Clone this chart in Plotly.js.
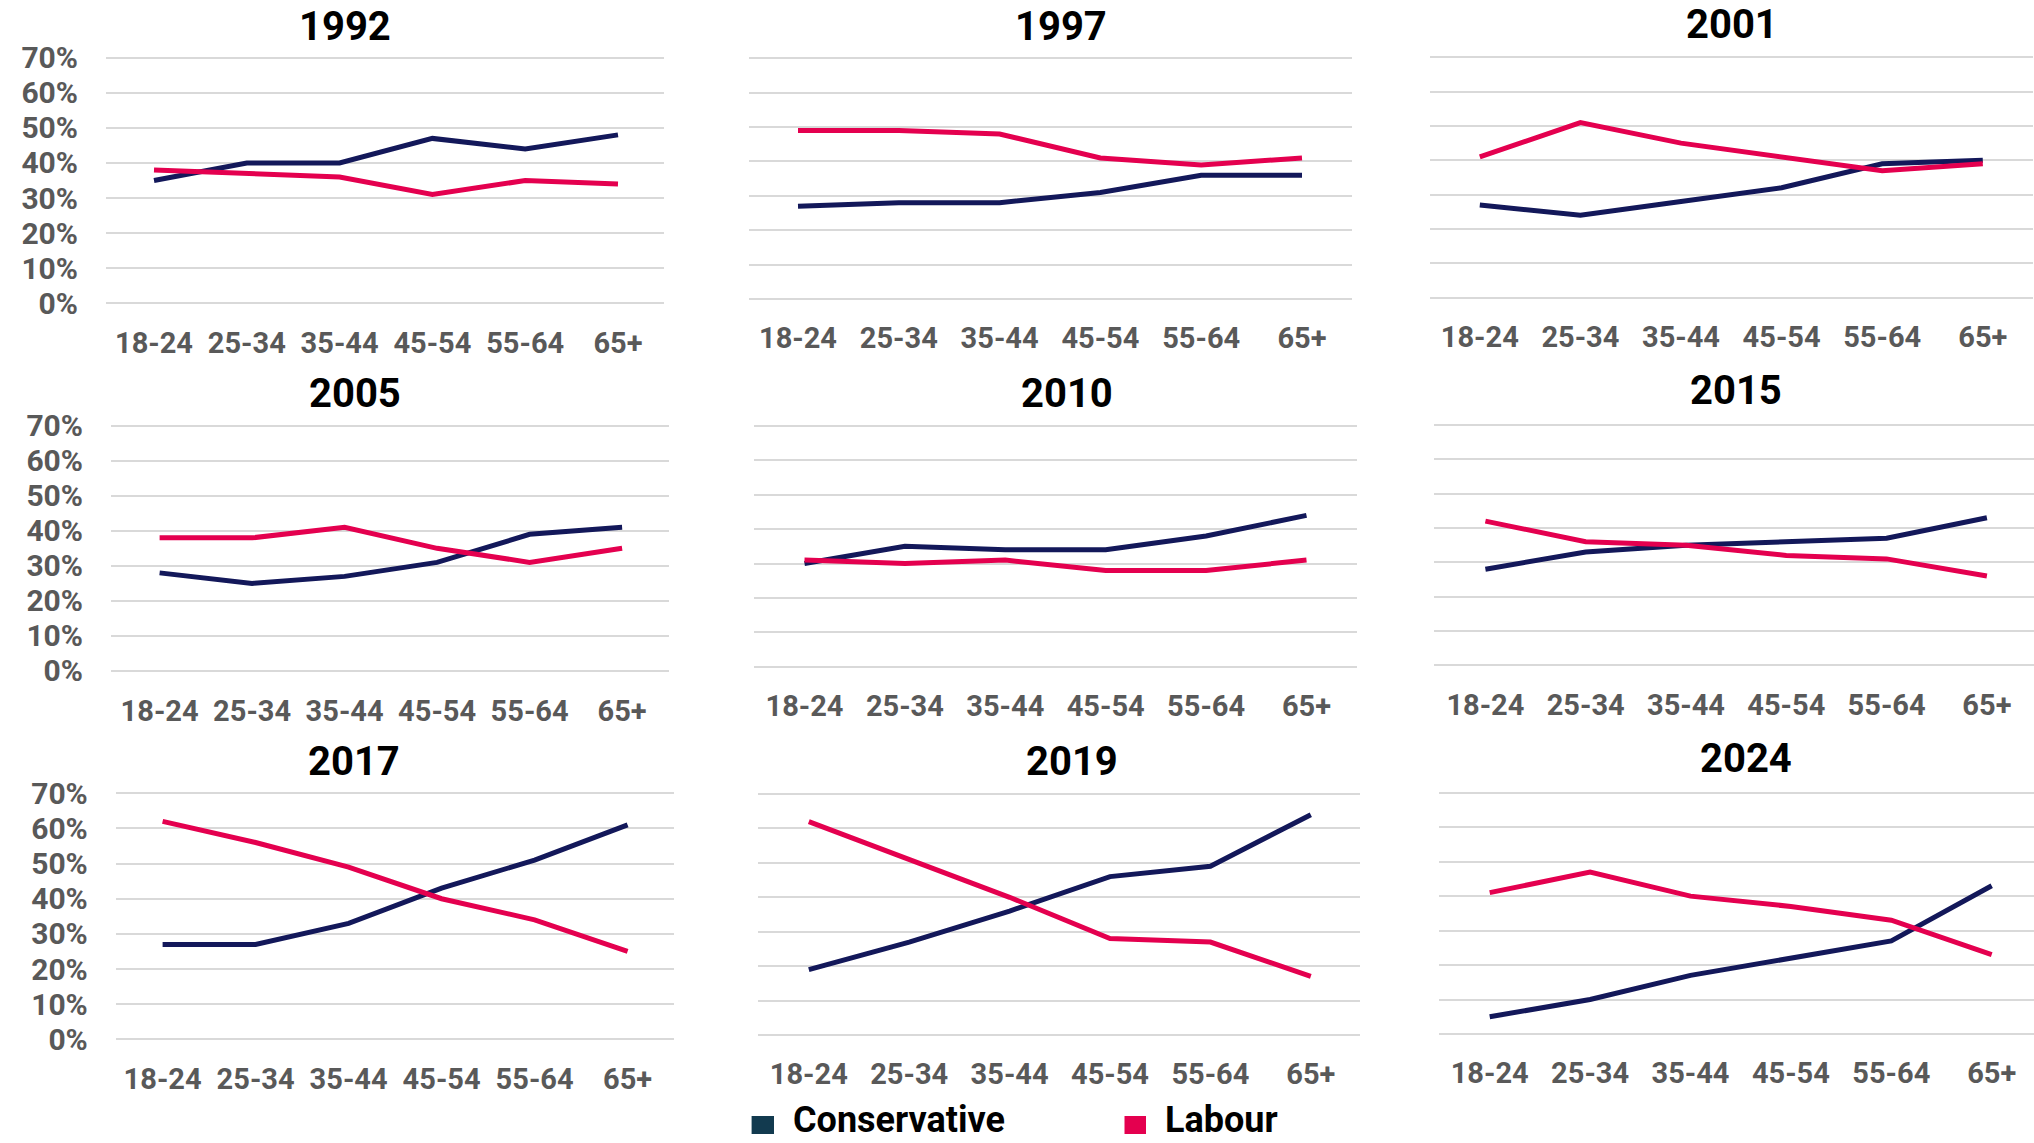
<!DOCTYPE html>
<html>
<head>
<meta charset="utf-8">
<script src="https://cdn.plot.ly/plotly-3.0.1.min.js"></script>
<style>
  html, body { margin: 0; padding: 0; background: #ffffff; }
  #chart { width: 2034px; height: 1143px; }
</style>
</head>
<body>
<div id="chart"></div>
<script>
// ---------------- DATA ----------------
const ageGroups = ['18-24', '25-34', '35-44', '45-54', '55-64', '65+'];
const years = ['1992', '1997', '2001', '2005', '2010', '2015', '2017', '2019', '2024'];
const partyNames = ['Conservative', 'Labour'];
const yTickValues = [0, 10, 20, 30, 40, 50, 60, 70];
const yTickLabels = ['0%', '10%', '20%', '30%', '40%', '50%', '60%', '70%'];

const con1992 = [35, 40, 40, 47, 44, 48];
const lab1992 = [38, 37, 36, 31, 35, 34];
const con1997 = [27, 28, 28, 31, 36, 36];
const lab1997 = [49, 49, 48, 41, 39, 41];
const con2001 = [27, 24, 28, 32, 39, 40];
const lab2001 = [41, 51, 45, 41, 37, 39];
const con2005 = [28, 25, 27, 31, 39, 41];
const lab2005 = [38, 38, 41, 35, 31, 35];
const con2010 = [30, 35, 34, 34, 38, 44];
const lab2010 = [31, 30, 31, 28, 28, 31];
const con2015 = [28, 33, 35, 36, 37, 43];
const lab2015 = [42, 36, 35, 32, 31, 26];
const con2017 = [27, 27, 33, 43, 51, 61];
const lab2017 = [62, 56, 49, 40, 34, 25];
const con2019 = [19, 27, 36, 46, 49, 64];
const lab2019 = [62, 51, 40, 28, 27, 17];
const con2024 = [5, 10, 17, 22, 27, 43];
const lab2024 = [41, 47, 40, 37, 33, 23];

const conSeries = [con1992, con1997, con2001, con2005, con2010, con2015, con2017, con2019, con2024];
const labSeries = [lab1992, lab1997, lab2001, lab2005, lab2010, lab2015, lab2017, lab2019, lab2024];

// ---------------- STYLE / GEOMETRY ----------------
const W = 2034, H = 1143;
const FONT = 'Roboto, "Noto Sans", sans-serif';
const conColor = '#13185a';
const labColor = '#e4004f';
const conLegendColor = '#123a4f';
const gridColor = '#d9d9d9';
const tickColor = '#595959';

// per panel: grid left/right px, first category centre px, spacing px, top(70%) px, bottom(0%) px, title centre
const geo = [
  {l: 106,   r: 663.5, c0: 154,    sp: 92.8,  t: 57.7,  b: 303.3,  tx: 345,    ty: 27,    ylab: true},
  {l: 748.5, r: 1352,  c0: 798,    sp: 100.8, t: 58.3,  b: 299,    tx: 1060.7, ty: 27,    ylab: false},
  {l: 1430,  r: 2033,  c0: 1479.8, sp: 100.6, t: 57.3,  b: 297.7,  tx: 1732,   ty: 24.5,  ylab: false},
  {l: 111,   r: 669,   c0: 159.6,  sp: 92.5,  t: 425.7, b: 671,    tx: 354.7,  ty: 393.3, ylab: true},
  {l: 753.7, r: 1356.5,c0: 804.5,  sp: 100.4, t: 426,   b: 666.7,  tx: 1067,   ty: 393.3, ylab: false},
  {l: 1434,  r: 2034,  c0: 1485.4, sp: 100.3, t: 425,   b: 665.3,  tx: 1735.6, ty: 390,   ylab: false},
  {l: 115.8, r: 673.5, c0: 162.6,  sp: 93,    t: 793.3, b: 1039.3, tx: 354.3,  ty: 761.7, ylab: true},
  {l: 758,   r: 1360,  c0: 808.8,  sp: 100.4, t: 794,   b: 1035,   tx: 1071.6, ty: 761.7, ylab: false},
  {l: 1439.4,r: 2034,  c0: 1489.7, sp: 100.4, t: 792.7, b: 1034,   tx: 1745.6, ty: 758.3, ylab: false}
];

const traces = [];
const layout = {
  width: W, height: H,
  margin: {l: 0, r: 0, t: 0, b: 0},
  paper_bgcolor: '#ffffff',
  plot_bgcolor: 'rgba(0,0,0,0)',
  showlegend: false,
  font: {family: FONT, color: tickColor},
  annotations: [],
  shapes: []
};

years.forEach((yr, i) => {
  const g = geo[i];
  const n = i + 1;
  const xa = 'x' + (n === 1 ? '' : n);
  const ya = 'y' + (n === 1 ? '' : n);
  const xkey = 'xaxis' + (n === 1 ? '' : n);
  const ykey = 'yaxis' + (n === 1 ? '' : n);

  const pad = 1; // in % units
  const unit = (g.b - g.t) / 70;
  const topPx = g.t - pad * unit, botPx = g.b + pad * unit;

  layout[xkey] = {
    domain: [g.l / W, g.r / W],
    anchor: ya,
    type: 'category',
    range: [(g.l - g.c0) / g.sp, (g.r - g.c0) / g.sp],
    showgrid: false, zeroline: false, showline: false,
    ticks: '',
    tickfont: {family: FONT, size: 29, color: tickColor, weight: 'bold'},
    ticklabelstandoff: 16,
    fixedrange: true
  };
  layout[ykey] = {
    domain: [1 - botPx / H, 1 - topPx / H],
    anchor: xa,
    range: [-pad, 70 + pad],
    tickmode: 'array',
    tickvals: yTickValues,
    ticktext: yTickLabels,
    showticklabels: g.ylab,
    showgrid: true, gridcolor: gridColor, gridwidth: 2,
    zeroline: false, showline: false,
    ticks: '',
    tickfont: {family: FONT, size: 30, color: tickColor, weight: 'bold'},
    ticklabelstandoff: 27,
    fixedrange: true
  };

  traces.push({
    type: 'scatter', mode: 'lines',
    x: ageGroups, y: conSeries[i],
    xaxis: xa, yaxis: ya,
    name: partyNames[0],
    line: {color: conColor, width: 5},
    hoverinfo: 'skip'
  });
  traces.push({
    type: 'scatter', mode: 'lines',
    x: ageGroups, y: labSeries[i],
    xaxis: xa, yaxis: ya,
    name: partyNames[1],
    line: {color: labColor, width: 5},
    hoverinfo: 'skip'
  });

  layout.annotations.push({
    xref: 'paper', yref: 'paper',
    x: g.tx / W, y: 1 - g.ty / H,
    xanchor: 'center', yanchor: 'middle',
    text: yr, showarrow: false,
    font: {family: FONT, size: 40, color: '#000000', weight: 'bold'}
  });
});

// legend (drawn as shapes + text)
const legendItems = [
  {name: partyNames[0], color: conLegendColor, sx0: 751.6, sx1: 774, tx: 790.6},
  {name: partyNames[1], color: labColor, sx0: 1124.5, sx1: 1146, tx: 1162.6}
];
legendItems.forEach(it => {
  layout.shapes.push({
    type: 'rect', xref: 'paper', yref: 'paper',
    x0: it.sx0 / W, x1: it.sx1 / W,
    y0: 1 - 1134 / H, y1: 1 - 1116 / H,
    fillcolor: it.color, line: {width: 0}
  });
  layout.annotations.push({
    xref: 'paper', yref: 'paper',
    x: it.tx / W, y: 0,
    xanchor: 'left', yanchor: 'bottom',
    text: it.name, showarrow: false,
    font: {family: FONT, size: 36, color: '#000000', weight: 'bold'}
  });
});

Plotly.newPlot('chart', traces, layout, {staticPlot: true, displayModeBar: false});
</script>
</body>
</html>
